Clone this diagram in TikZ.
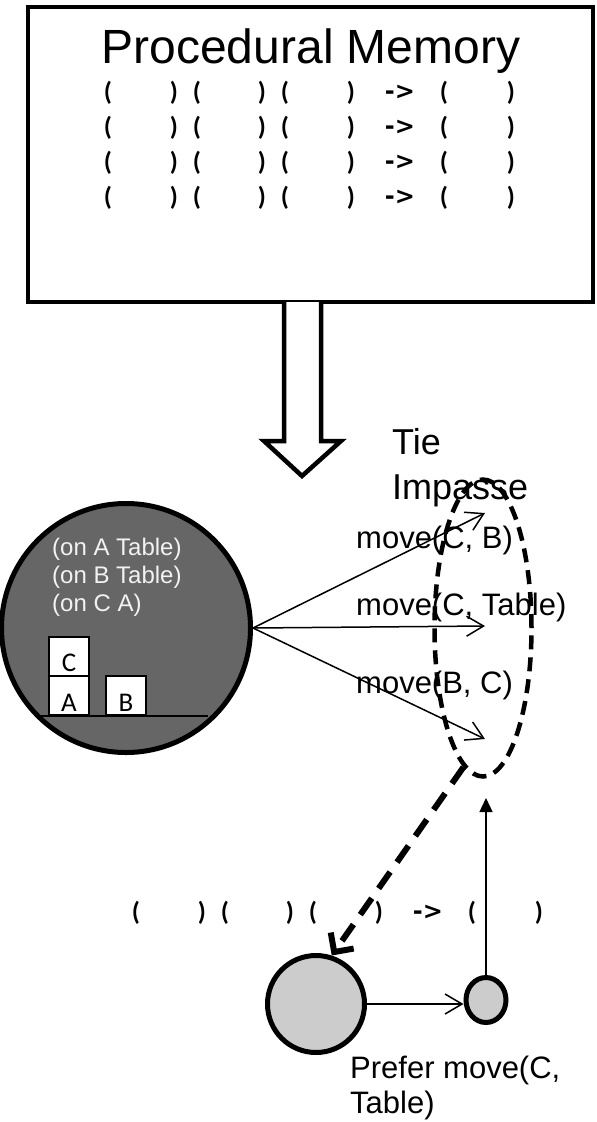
\documentclass[tikz,border=0pt]{standalone}
\usepackage{fontspec}
\setmainfont{Liberation Sans}
\newfontfamily\calibri{Carlito}
\newfontfamily\dejavu{DejaVu Sans}
\usetikzlibrary{arrows.meta,shapes.geometric}

\tikzset{
      thickline/.style={line width=4.5pt},
      thinarrow/.style={line width=1.5pt, -{Straight Barb[length=17pt,width=20pt]}},
      paren/.style={font=\calibri\bfseries\fontsize{26}{26}\selectfont, inner sep=0pt},
      implies/.style={font=\dejavu\bfseries\fontsize{24}{24}\selectfont, inner sep=0pt},
      block/.style={draw, fill=white, line width=1.2pt, minimum width=40pt, minimum height=39pt, inner sep=0pt},
      blocktxt/.style={font=\calibri\fontsize{27}{27}\selectfont, inner sep=0pt, anchor=base},
      facttxt/.style={font=\fontsize{24}{24}\selectfont, text=black!5, inner sep=0pt, anchor=base west},
      movetxt/.style={font=\fontsize{31}{31}\selectfont, inner sep=0pt, anchor=base west}
}

\begin{document}
\begin{tikzpicture}[x=1pt,y=-1pt]
      \useasboundingbox (0,0) rectangle (597,1122);

      % memory box with its rules
      \node[draw, thickline, outer sep=0pt, inner sep=0pt, anchor=north west,
            minimum width=565pt, minimum height=295pt] (memory) at (28,7) {};
      \node[font=\fontsize{48}{48}\selectfont, inner sep=0pt, anchor=base] (title) at (311,63) {Procedural Memory};
      \foreach \r in {0,...,3} {
            \foreach \x/\c in {108/{(},174/{)},197/{(},262/{)},285/{(},351/{)},444/{(},511/{)}}
                  \node[paren] (p\r-\x) at (\x,93+35*\r) {\c};
            \node[implies] (imp\r) at (400,92+35*\r) {->};
      }

      % hollow arrow down
      \draw[thickline, fill=white, line join=miter] (284,302) -- (284,441) -- (264,441) -- (302,476)
            -- (341,441) -- (321,441) -- (321,302);

      % current state
      \node[circle, draw, line width=5pt, fill=black!60, minimum size=249pt, inner sep=0pt] (state) at (126,628) {};
      \foreach \t [count=\i from 0] in {{(on A Table)},{(on B Table)},{(on C A)}}
            \node[facttxt] (fact\i) at (52,555+28*\i) {\t};
      \draw[line width=1.5pt] (38,716) -- (208,716);
      \node[block] (blkC) at (69,656.5) {};
      \node[block] (blkA) at (69,695.5) {};
      \node[block] (blkB) at (126,695.5) {};
      \node[blocktxt] (lblC) at ([yshift=5pt]blkC.south) {C};
      \node[blocktxt] (lblA) at ([yshift=4pt]blkA.south) {A};
      \node[blocktxt] (lblB) at ([yshift=4pt]blkB.south) {B};

      % tied operators
      \node[font=\fontsize{36}{36}\selectfont, inner sep=0pt, anchor=base west] (tie) at (392,454) {Tie};
      \node[font=\fontsize{36}{36}\selectfont, inner sep=0pt, anchor=base west] (impasselbl) at (392,499) {Impasse};
      \node[movetxt] (opCB) at (356,548) {move(C, B)};
      \node[movetxt] (opCT) at (356,615) {move(C, Table)};
      \node[movetxt] (opBC) at (356,693) {move(B, C)};
      \coordinate (m1) at (485,513);
      \coordinate (m2) at (485,626);
      \coordinate (m3) at (485,739);
      \draw[thinarrow] (state.east) -- (m1);
      \draw[thinarrow] (state.east) -- (m2);
      \draw[thinarrow] (state.east) -- (m3);
      \node[ellipse, draw, thickline, dash pattern=on 14pt off 8pt, inner sep=0pt,
            minimum width=97pt, minimum height=297pt] (impasse) at (483,628) {};

      % subgoal
      \foreach \x/\c in {136/{(},202/{)},225/{(},290/{)},313/{(},379/{)},472/{(},539/{)}}
            \node[paren] (q\x) at (\x,913) {\c};
      \node[implies] (impsub) at (428,912) {->};
      \node[circle, draw, line width=5pt, fill=black!20, minimum size=97pt, inner sep=0pt] (subgoal) at (316,1004) {};
      \node[ellipse, draw, line width=5pt, fill=black!20, minimum width=40pt, minimum height=45pt, inner sep=0pt] (pref) at (486,1000) {};
      \coordinate (back) at (486,798);
      \draw[line width=6pt, dash pattern=on 20pt off 12pt, -{Straight Barb[length=14pt,width=28pt]}]
            (impasse.262) -- (subgoal.72);
      \draw[thinarrow] (subgoal.east) -- (subgoal.east -| pref.west);
      \draw[line width=1.5pt, -{Triangle[length=14pt,width=13pt]}] (pref.north) -- (back);
      \node[movetxt] (prefa) at (350,1078) {Prefer move(C,};
      \node[movetxt] (prefb) at (350,1113) {Table)};
\end{tikzpicture}
\end{document}
